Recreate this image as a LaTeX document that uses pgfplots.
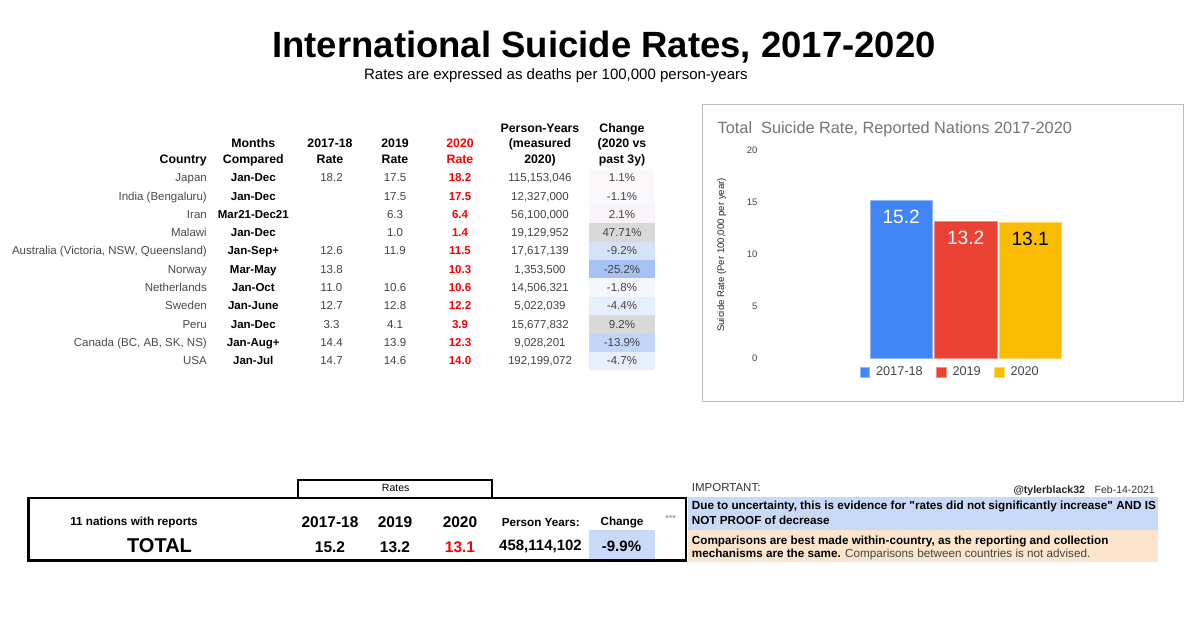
\documentclass[border=0pt]{standalone}
\usepackage{fontspec}
\setmainfont{Liberation Sans}[Ligatures=TeXOff]
\usepackage{pgfplots}
\pgfplotsset{compat=1.18}
\definecolor{cblue}{HTML}{4285F4}
\definecolor{cred}{HTML}{EA4335}
\definecolor{cyel}{HTML}{FBBC04}
\definecolor{gtxt}{HTML}{444444}
\definecolor{ctry}{HTML}{4A4A4A}
\definecolor{ch1}{HTML}{FDF8FA}
\definecolor{ch2}{HTML}{F7F9FE}
\definecolor{ch3}{HTML}{FBF3F7}
\definecolor{ch4}{HTML}{D9D9D9}
\definecolor{ch5}{HTML}{D5E2F9}
\definecolor{ch6}{HTML}{A4C2F4}
\definecolor{ch7}{HTML}{F4F7FE}
\definecolor{ch8}{HTML}{E8EFFC}
\definecolor{ch9}{HTML}{D9D9D9}
\definecolor{ch10}{HTML}{C4D6F7}
\definecolor{ch11}{HTML}{E7EEFC}
\definecolor{cellblue}{HTML}{C9DAF8}
\definecolor{peach}{HTML}{FCE5CD}
\newcommand\tf{\fontsize{11.5}{13}\selectfont}
\newcommand\hf{\fontsize{12.3}{14}\selectfont\bfseries}
\newcommand\trow[9]{%
  \fill[#9] (589,#1-13.25) rectangle (655,#1+5.05);
  \node[anchor=base east,text=ctry,font=\tf] at (207,#1) {#2};
  \node[anchor=base,font=\tf\bfseries] at (253.3,#1) {#3};
  \node[anchor=base,text=gtxt,font=\tf] at (331.5,#1) {#4};
  \node[anchor=base,text=gtxt,font=\tf] at (395,#1) {#5};
  \node[anchor=base,text=red,font=\tf\bfseries] at (460,#1) {#6};
  \node[anchor=base,text=gtxt,font=\tf] at (540,#1) {#7};
  \node[anchor=base,text=gtxt,font=\tf] at (622,#1) {#8};
}
\begin{document}
\begin{tikzpicture}
\begin{scope}[x=1pt,y=-1pt,every node/.style={inner sep=0pt}]
\useasboundingbox[fill=white] (0,0) rectangle (1200,617);
% titles
\node[anchor=base,font=\fontsize{36.5}{40}\selectfont\bfseries] at (604,57.7) {International Suicide Rates, 2017-2020};
\node[anchor=base,font=\fontsize{15}{17}\selectfont] at (555.9,80) {Rates are expressed as deaths per 100,000 person-years};
% table header
\node[anchor=base east,font=\hf] at (207,163.4) {Country};
\node[anchor=base,font=\hf] at (253.3,147.7) {Months};
\node[anchor=base,font=\hf] at (253.3,163.4) {Compared};
\node[anchor=base,font=\hf] at (330,147.7) {2017-18};
\node[anchor=base,font=\hf] at (330,163.4) {Rate};
\node[anchor=base,font=\hf] at (395,147.7) {2019};
\node[anchor=base,font=\hf] at (395,163.4) {Rate};
\node[anchor=base,font=\hf,text=red] at (460,147.7) {2020};
\node[anchor=base,font=\hf,text=red] at (460,163.4) {Rate};
\node[anchor=base,font=\hf] at (540,132.7) {Person-Years};
\node[anchor=base,font=\hf] at (540,147.7) {(measured};
\node[anchor=base,font=\hf] at (540,163.4) {2020)};
\node[anchor=base,font=\hf] at (622,132.7) {Change};
\node[anchor=base,font=\hf] at (622,147.7) {(2020 vs};
\node[anchor=base,font=\hf] at (622,163.4) {past 3y)};
% table rows
\trow{181.8}{Japan}{Jan-Dec}{18.2}{17.5}{18.2}{115,153,046}{1.1\%}{ch1}
\trow{200.1}{India (Bengaluru)}{Jan-Dec}{}{17.5}{17.5}{12,327,000}{-1.1\%}{ch2}
\trow{218.4}{Iran}{Mar21-Dec21}{}{6.3}{6.4}{56,100,000}{2.1\%}{ch3}
\trow{236.7}{Malawi}{Jan-Dec}{}{1.0}{1.4}{19,129,952}{47.71\%}{ch4}
\trow{255.0}{Australia (Victoria, NSW, Queensland)}{Jan-Sep+}{12.6}{11.9}{11.5}{17,617,139}{-9.2\%}{ch5}
\trow{273.3}{Norway}{Mar-May}{13.8}{}{10.3}{1,353,500}{-25.2\%}{ch6}
\trow{291.6}{Netherlands}{Jan-Oct}{11.0}{10.6}{10.6}{14,506,321}{-1.8\%}{ch7}
\trow{309.9}{Sweden}{Jan-June}{12.7}{12.8}{12.2}{5,022,039}{-4.4\%}{ch8}
\trow{328.2}{Peru}{Jan-Dec}{3.3}{4.1}{3.9}{15,677,832}{9.2\%}{ch9}
\trow{346.5}{Canada (BC, AB, SK, NS)}{Jan-Aug+}{14.4}{13.9}{12.3}{9,028,201}{-13.9\%}{ch10}
\trow{364.8}{USA}{Jan-Jul}{14.7}{14.6}{14.0}{192,199,072}{-4.7\%}{ch11}
% chart frame and title
\draw[draw=black!26,line width=1.3pt] (702.7,104.3) rectangle (1183.3,401.7);
\node[anchor=base west,font=\fontsize{16.3}{18}\selectfont,text=black!54] at (717.5,133.3) {Total\ \ Suicide Rate, Reported Nations 2017-2020};
% bottom summary
\fill[cellblue] (589.3,530) rectangle (655,560);
\draw[line width=2pt] (298.3,497) -- (298.3,480) -- (491.7,480) -- (491.7,497);
\node[font=\fontsize{10.5}{12}\selectfont] at (395.7,487.7) {Rates};
\draw[line width=2.6pt] (28.6,498) rectangle (686,560.4);
\node[font=\fontsize{11.7}{13}\selectfont\bfseries] at (134,522.3) {11 nations with reports};
\node[font=\fontsize{15.5}{17}\selectfont\bfseries] at (330,521.7) {2017-18};
\node[font=\fontsize{15.5}{17}\selectfont\bfseries] at (395,521.7) {2019};
\node[font=\fontsize{15.5}{17}\selectfont\bfseries] at (460,521.7) {2020};
\node[font=\fontsize{11.7}{13}\selectfont\bfseries] at (540.8,522.3) {Person Years:};
\node[font=\fontsize{11.7}{13}\selectfont\bfseries] at (622,522.3) {Change};
\node[font=\fontsize{9}{10}\selectfont,text=black!55] at (670.7,518.3) {***};
\node[font=\fontsize{20}{22}\selectfont\bfseries] at (159.5,546) {TOTAL};
\node[font=\fontsize{15.5}{17}\selectfont\bfseries] at (330,546.7) {15.2};
\node[font=\fontsize{15.5}{17}\selectfont\bfseries] at (395,546.7) {13.2};
\node[font=\fontsize{15.5}{17}\selectfont\bfseries,text=red] at (460,546.7) {13.1};
\node[font=\fontsize{15}{17}\selectfont\bfseries] at (540.5,546.7) {458,114,102};
\node[font=\fontsize{15}{17}\selectfont\bfseries] at (621.5,546.7) {-9.9\%};
% notes
\fill[cellblue] (688,497.3) rectangle (1158,530);
\fill[peach] (688,530) rectangle (1158,561.7);
\node[anchor=base west,font=\fontsize{11.5}{13}\selectfont,text=black!80] at (691.7,491.4) {IMPORTANT:};
\node[anchor=base west,font=\fontsize{10.6}{12}\selectfont\bfseries,text=black!85] at (1013.3,493.1) {@tylerblack32};
\node[anchor=base east,font=\fontsize{10.5}{12}\selectfont,text=black!80] at (1155,493.1) {Feb-14-2021};
\node[anchor=base west,font=\fontsize{11.7}{13}\selectfont\bfseries] at (691.7,509.2) {Due to uncertainty, this is evidence for "rates did not significantly increase" AND IS};
\node[anchor=base west,font=\fontsize{11.7}{13}\selectfont\bfseries] at (691.7,524.9) {NOT PROOF of decrease};
\node[anchor=base west,font=\fontsize{11.7}{13}\selectfont\bfseries] at (691.7,544.2) {Comparisons are best made within-country, as the reporting and collection};
\node[anchor=base west,font=\fontsize{11.7}{13}\selectfont] at (691.7,557.5) {\textbf{mechanisms are the same.} \textcolor{gtxt}{Comparisons between countries is not advised.}};
\end{scope}
\begin{axis}[
  at={(760pt,-358.6pt)}, anchor=south west,
  scale only axis, width=411.4pt, height=208.6pt,
  xmin=-1, xmax=1, ymin=0, ymax=20,
  ybar=2pt, bar width=62.5pt,
  xtick=\empty, ytick={0,5,10,15,20},
  axis line style={draw=none}, major tick length=0pt,
  /pgf/number format/assume math mode=true,
  yticklabel style={font=\fontsize{9.5}{11}\selectfont, text=gtxt, inner sep=0pt, xshift=-2.3pt},
  ylabel={Suicide Rate (Per 100,000 per year)},
  ylabel style={at={(axis description cs:-0.0931,0.497)}, anchor=center, font=\fontsize{9.6}{11}\selectfont, text=black!85},
  nodes near coords,
  every node near coord/.append style={anchor=center, yshift=-16.5pt, font=\fontsize{19.2}{22}\selectfont},
  legend style={at={(axis description cs:0.46,-0.0657)}, anchor=center, draw=none, fill=none,
    legend columns=3, font=\fontsize{12.7}{14}\selectfont, text=gtxt, inner sep=0pt,
    nodes={inner sep=0pt},
    /tikz/every odd column/.append style={column sep=6pt},
    /tikz/every even column/.append style={column sep=13.4pt}},
  legend image code/.code={\fill[#1] (0pt,-4.8pt) rectangle (9.6pt,4.8pt);},
]
\addplot[fill=cblue, draw=cblue!60!white, line width=0.8pt, every node near coord/.append style={text=white}] coordinates {(0,15.2)};
\addplot[fill=cred, draw=cred!60!white, line width=0.8pt, every node near coord/.append style={text=white}] coordinates {(0,13.2)};
\addplot[fill=cyel, draw=cyel!60!white, line width=0.8pt, every node near coord/.append style={text=black}] coordinates {(0,13.1)};
\legend{2017-18,2019,2020}
\end{axis}
\end{tikzpicture}
\end{document}
